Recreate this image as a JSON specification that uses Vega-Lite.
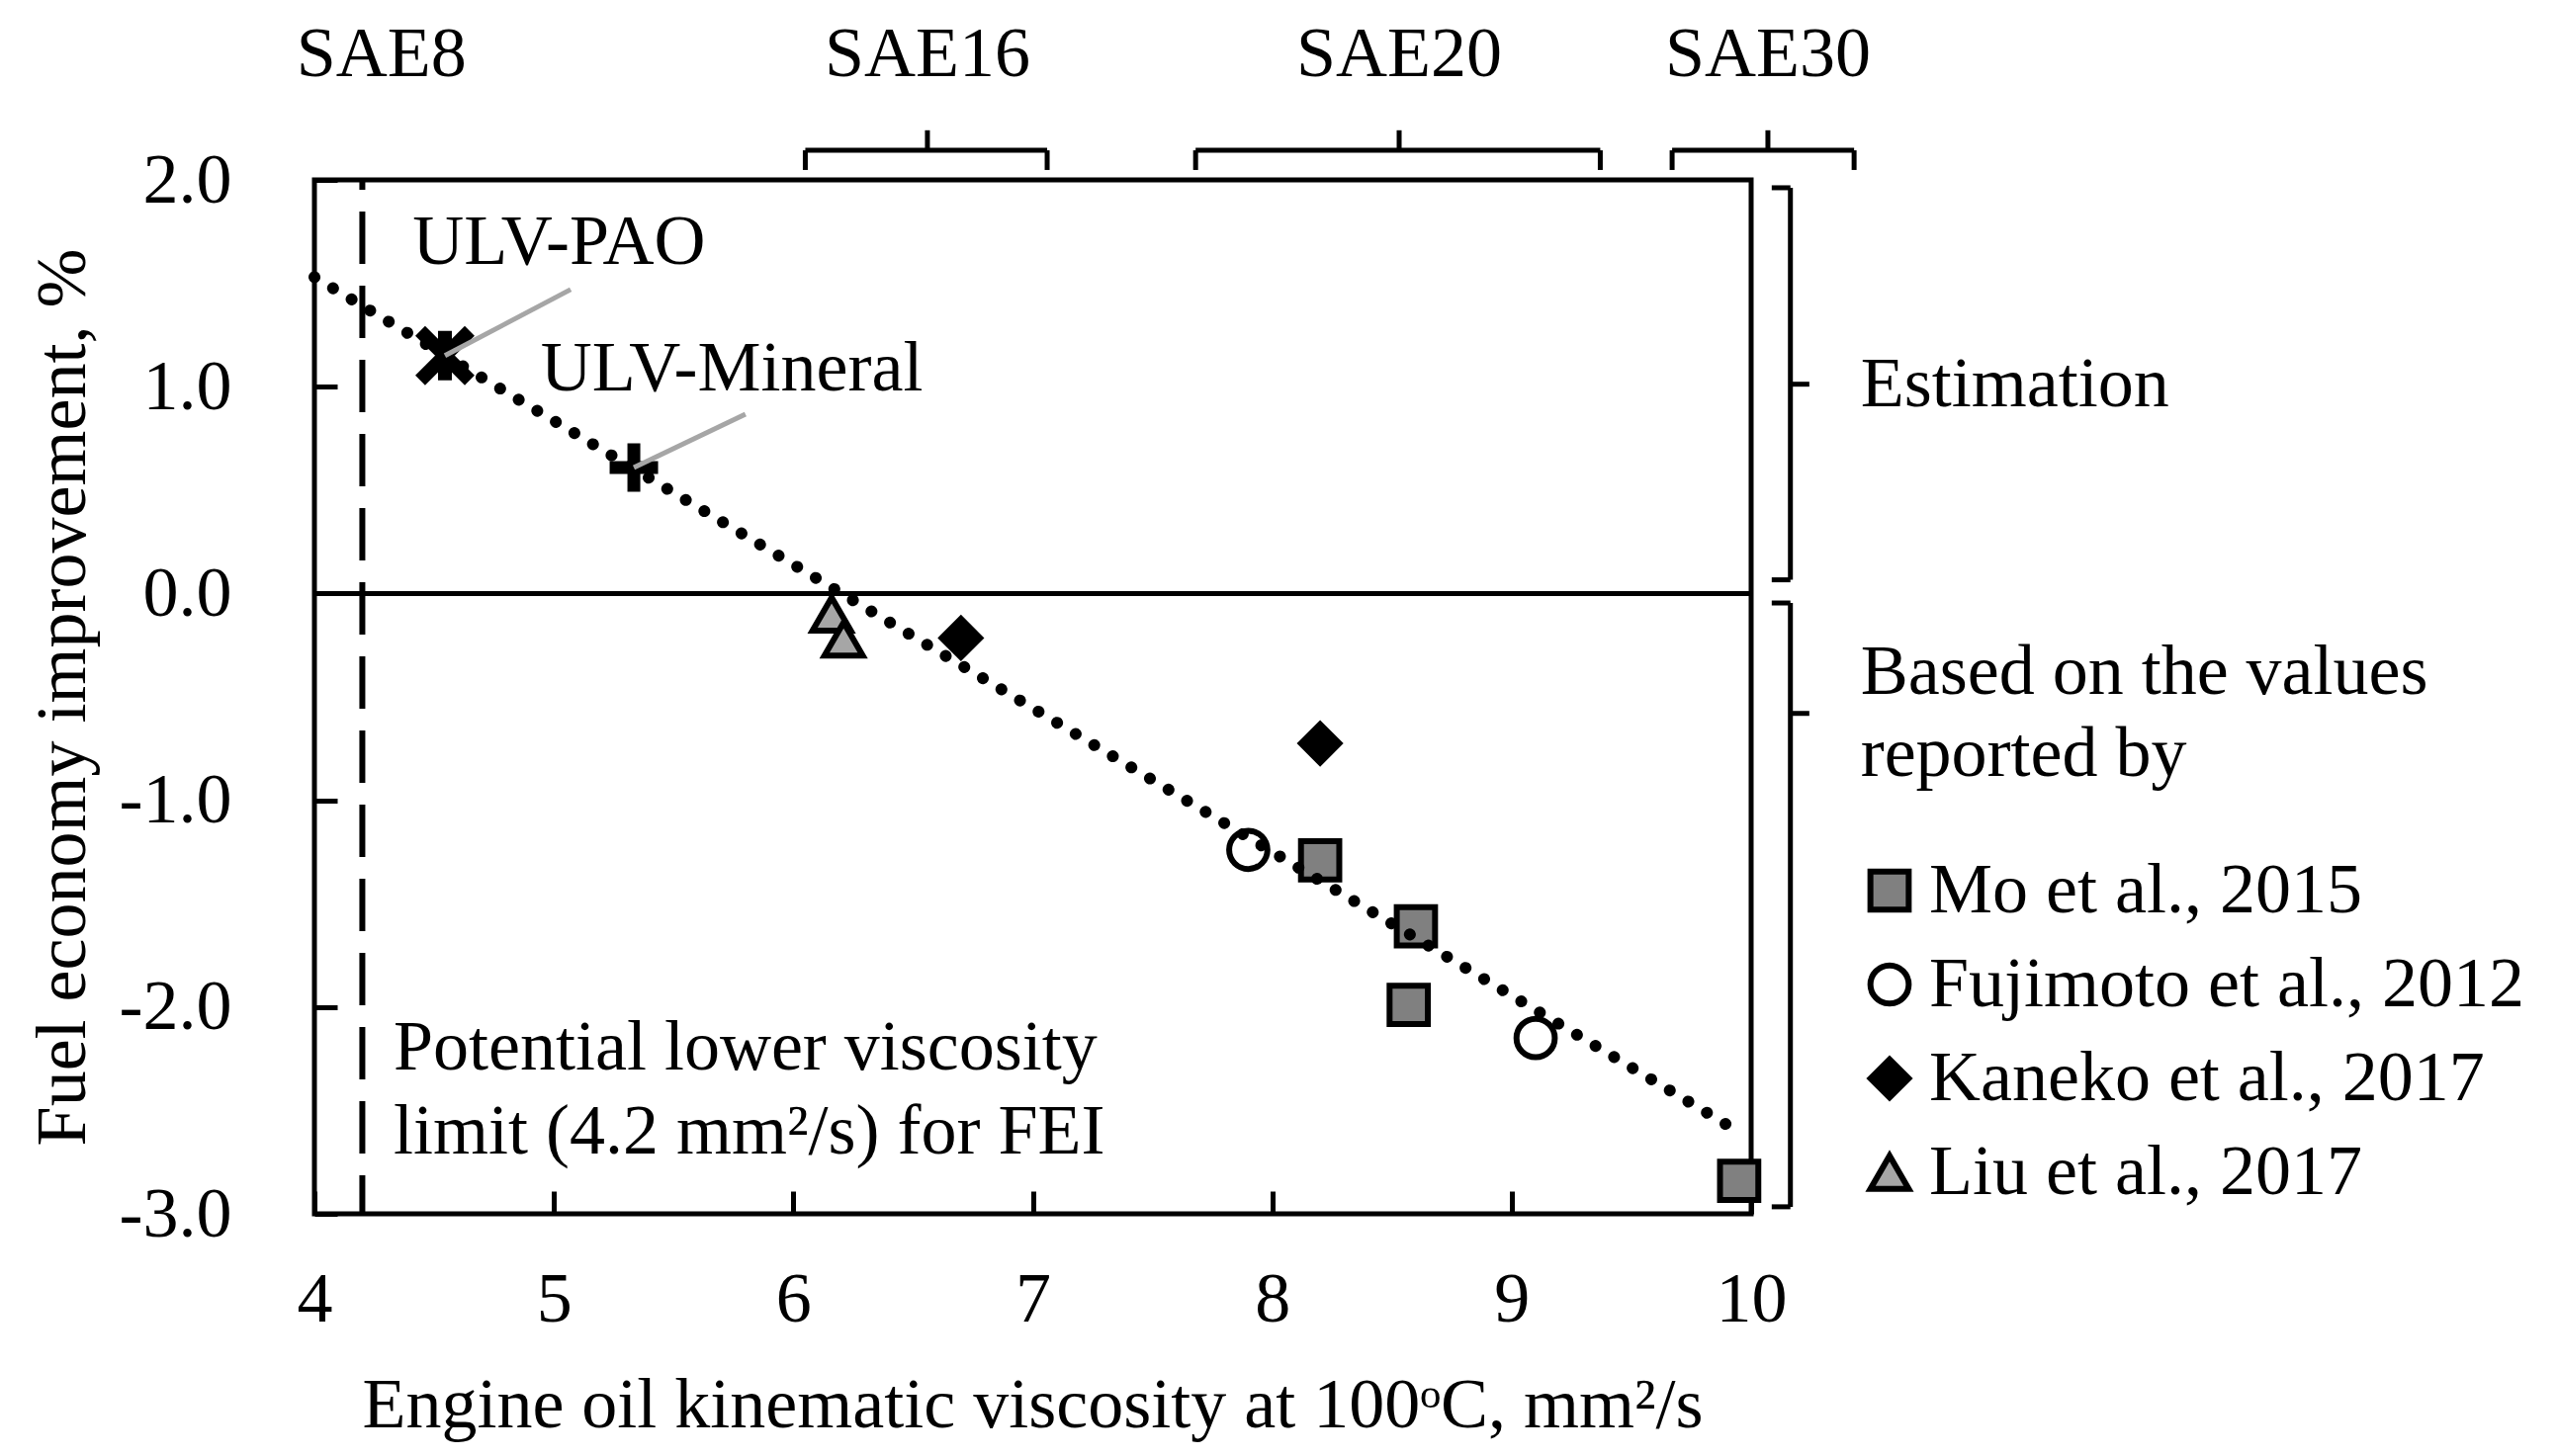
{
  "$schema": "https://vega.github.io/schema/vega-lite/v6.json",
  "autosize": "none",
  "width": 1453,
  "height": 1046,
  "padding": {"left": 318, "top": 182, "right": 815, "bottom": 245},
  "background": "white",
  "config": {
    "font": "Liberation Serif",
    "view": {"stroke": "black", "strokeWidth": 5},
    "axis": {
      "domain": false, "grid": false, "ticks": true, "tickSize": -23, "tickWidth": 5, "tickColor": "black",
      "labelFont": "Liberation Serif", "labelFontSize": 72, "labelColor": "black", "labelFlush": false, "labelOverlap": false, "labelBound": false,
      "titleFont": "Liberation Serif", "titleFontSize": 72, "titleFontWeight": "normal", "titleColor": "black"
    },
    "text": {"font": "Liberation Serif", "fontSize": 72, "color": "black"}
  },
  "datasets": {
    "refs": [
      {"source": "Mo et al., 2015", "visc": 8.2, "fei": -1.29},
      {"source": "Mo et al., 2015", "visc": 8.6, "fei": -1.61},
      {"source": "Mo et al., 2015", "visc": 8.57, "fei": -1.99},
      {"source": "Mo et al., 2015", "visc": 9.95, "fei": -2.84},
      {"source": "Fujimoto et al., 2012", "visc": 7.9, "fei": -1.24},
      {"source": "Fujimoto et al., 2012", "visc": 9.1, "fei": -2.15},
      {"source": "Kaneko et al., 2017", "visc": 6.7, "fei": -0.215},
      {"source": "Kaneko et al., 2017", "visc": 8.2, "fei": -0.725},
      {"source": "Liu et al., 2017", "visc": 6.16, "fei": -0.1},
      {"source": "Liu et al., 2017", "visc": 6.21, "fei": -0.22}
    ],
    "ulv": [
      {"oil": "ULV-PAO", "visc": 4.545, "fei": 1.15, "leadVisc": 5.07, "leadFei": 1.47, "textVisc": 4.41, "textFei": 1.594},
      {"oil": "ULV-Mineral", "visc": 5.334, "fei": 0.609, "leadVisc": 5.8, "leadFei": 0.867, "textVisc": 4.945, "textFei": 0.982}
    ],
    "trend": [
      {"visc": 4.0, "fei": 1.53},
      {"visc": 9.9, "fei": -2.57}
    ],
    "sae": [
      {"grade": "SAE8", "mid": 4.28},
      {"grade": "SAE16", "lo": 6.05, "hi": 7.06, "mid": 6.56},
      {"grade": "SAE20", "lo": 7.68, "hi": 9.37, "mid": 8.53},
      {"grade": "SAE30", "lo": 9.67, "hi": 10.43, "mid": 10.07}
    ],
    "groups": [
      {"label": ["Estimation"], "top": 1.962, "bottom": 0.066, "tick": 1.012, "labelFei": 0.905},
      {"label": ["Based on the values", "reported by"], "top": -0.046, "bottom": -2.966, "tick": -0.58, "labelFei": -0.486}
    ]
  },
  "layer": [
    {
      "data": {"name": "refs"},
      "mark": {"type": "point", "filled": true, "stroke": "black", "strokeWidth": 6, "size": 1500, "opacity": 1},
      "encoding": {
        "x": {"field": "visc", "type": "quantitative", "scale": {"domain": [4, 10], "nice": false, "zero": false},
          "axis": {"values": [4, 5, 6, 7, 8, 9, 10], "format": "d", "labelPadding": 74, "title": "Engine oil kinematic viscosity at 100ᵒC, mm²/s", "titleX": 726, "titleY": 215, "titleBaseline": "alphabetic", "titleAlign": "center"}},
        "y": {"field": "fei", "type": "quantitative", "scale": {"domain": [-3, 2], "nice": false, "zero": false},
          "axis": {"values": [-3, -2, -1, 0, 1, 2], "format": ".1f", "labelExpr": "replace(datum.label, '−', '-')", "labelPadding": 107, "title": "Fuel economy improvement, %", "titleX": -233, "titleY": 523, "titleBaseline": "alphabetic", "titleAlign": "center", "titleAngle": -90}},
        "fill": {"field": "source", "type": "nominal",
          "scale": {"domain": ["Mo et al., 2015", "Fujimoto et al., 2012", "Kaneko et al., 2017", "Liu et al., 2017"], "range": ["#808080", "#ffffff", "#000000", "#a6a6a6"]},
          "legend": {"orient": "none", "legendX": 1557, "legendY": 683, "title": null, "padding": 0, "rowPadding": 23, "labelOffset": 4, "labelLimit": 0,
            "labelFont": "Liberation Serif", "labelFontSize": 72, "labelColor": "black", "symbolSize": 1500, "symbolStrokeWidth": 6, "symbolStrokeColor": "black", "symbolOpacity": 1}},
        "shape": {"field": "source", "type": "nominal",
          "scale": {"domain": ["Mo et al., 2015", "Fujimoto et al., 2012", "Kaneko et al., 2017", "Liu et al., 2017"], "range": ["square", "circle", "diamond", "triangle-up"]}}
      }
    },
    {
      "data": {"values": [{}]},
      "mark": {"type": "rule", "color": "black", "strokeWidth": 5},
      "encoding": {"y": {"datum": 0, "type": "quantitative"}}
    },
    {
      "data": {"values": [{}]},
      "mark": {"type": "rule", "color": "black", "strokeWidth": 6, "strokeDash": [53, 22], "strokeDashOffset": 43},
      "encoding": {"x": {"datum": 4.2, "type": "quantitative"}}
    },
    {
      "data": {"name": "ulv"},
      "transform": [{"filter": "datum.oil === 'ULV-PAO'"}],
      "mark": {"type": "point", "shape": "M-1,-1L1,1M-1,1L1,-1M0,-1L0,1", "filled": false, "stroke": "black", "strokeWidth": 14, "strokeCap": "butt", "size": 2500, "opacity": 1},
      "encoding": {
        "x": {"field": "visc", "type": "quantitative"},
        "y": {"field": "fei", "type": "quantitative"}
      }
    },
    {
      "data": {"name": "ulv"},
      "transform": [{"filter": "datum.oil === 'ULV-Mineral'"}],
      "mark": {"type": "point", "shape": "M-1,0L1,0M0,-1L0,1", "filled": false, "stroke": "black", "strokeWidth": 13, "strokeCap": "butt", "size": 2400, "opacity": 1},
      "encoding": {
        "x": {"field": "visc", "type": "quantitative"},
        "y": {"field": "fei", "type": "quantitative"}
      }
    },
    {
      "data": {"name": "trend"},
      "mark": {"type": "line", "color": "black", "strokeWidth": 12, "strokeDash": [0.1, 21.8], "strokeCap": "round"},
      "encoding": {
        "x": {"field": "visc", "type": "quantitative"},
        "y": {"field": "fei", "type": "quantitative"}
      }
    },
    {
      "data": {"name": "ulv"},
      "mark": {"type": "rule", "color": "#a6a6a6", "strokeWidth": 5},
      "encoding": {
        "x": {"field": "visc", "type": "quantitative"},
        "y": {"field": "fei", "type": "quantitative"},
        "x2": {"field": "leadVisc"},
        "y2": {"field": "leadFei"}
      }
    },
    {
      "data": {"name": "ulv"},
      "mark": {"type": "text", "align": "left", "baseline": "alphabetic"},
      "encoding": {
        "x": {"field": "textVisc", "type": "quantitative"},
        "y": {"field": "textFei", "type": "quantitative"},
        "text": {"field": "oil"}
      }
    },
    {
      "data": {"values": [{"note": ["Potential lower viscosity", "limit (4.2 mm²/s) for FEI"]}]},
      "mark": {"type": "text", "align": "left", "baseline": "alphabetic", "lineHeight": 85},
      "encoding": {
        "x": {"datum": 4.33, "type": "quantitative"},
        "y": {"datum": -2.302, "type": "quantitative"},
        "text": {"field": "note"}
      }
    },
    {
      "data": {"name": "sae"},
      "mark": {"type": "rule", "color": "black", "strokeWidth": 5},
      "encoding": {
        "x": {"field": "lo", "type": "quantitative"},
        "x2": {"field": "hi"},
        "y": {"datum": 2.143, "type": "quantitative"}
      }
    },
    {
      "data": {"name": "sae"},
      "mark": {"type": "rule", "color": "black", "strokeWidth": 5},
      "encoding": {
        "x": {"field": "lo", "type": "quantitative"},
        "y": {"datum": 2.143, "type": "quantitative"},
        "y2": {"datum": 2.048}
      }
    },
    {
      "data": {"name": "sae"},
      "mark": {"type": "rule", "color": "black", "strokeWidth": 5},
      "encoding": {
        "x": {"field": "hi", "type": "quantitative"},
        "y": {"datum": 2.143, "type": "quantitative"},
        "y2": {"datum": 2.048}
      }
    },
    {
      "data": {"name": "sae"},
      "transform": [{"filter": "isValid(datum.lo)"}],
      "mark": {"type": "rule", "color": "black", "strokeWidth": 5},
      "encoding": {
        "x": {"field": "mid", "type": "quantitative"},
        "y": {"datum": 2.143, "type": "quantitative"},
        "y2": {"datum": 2.24}
      }
    },
    {
      "data": {"name": "sae"},
      "mark": {"type": "text", "align": "center", "baseline": "alphabetic"},
      "encoding": {
        "x": {"field": "mid", "type": "quantitative"},
        "y": {"datum": 2.5, "type": "quantitative"},
        "text": {"field": "grade"}
      }
    },
    {
      "data": {"name": "groups"},
      "mark": {"type": "rule", "color": "black", "strokeWidth": 5},
      "encoding": {
        "x": {"datum": 10.164, "type": "quantitative"},
        "y": {"field": "top", "type": "quantitative"},
        "y2": {"field": "bottom"}
      }
    },
    {
      "data": {"name": "groups"},
      "mark": {"type": "rule", "color": "black", "strokeWidth": 5},
      "encoding": {
        "x": {"datum": 10.086, "type": "quantitative"},
        "x2": {"datum": 10.164},
        "y": {"field": "top", "type": "quantitative"}
      }
    },
    {
      "data": {"name": "groups"},
      "mark": {"type": "rule", "color": "black", "strokeWidth": 5},
      "encoding": {
        "x": {"datum": 10.086, "type": "quantitative"},
        "x2": {"datum": 10.164},
        "y": {"field": "bottom", "type": "quantitative"}
      }
    },
    {
      "data": {"name": "groups"},
      "mark": {"type": "rule", "color": "black", "strokeWidth": 5},
      "encoding": {
        "x": {"datum": 10.164, "type": "quantitative"},
        "x2": {"datum": 10.243},
        "y": {"field": "tick", "type": "quantitative"}
      }
    },
    {
      "data": {"name": "groups"},
      "mark": {"type": "text", "align": "left", "baseline": "alphabetic", "lineHeight": 83},
      "encoding": {
        "x": {"datum": 10.457, "type": "quantitative"},
        "y": {"field": "labelFei", "type": "quantitative"},
        "text": {"field": "label"}
      }
    }
  ]
}
